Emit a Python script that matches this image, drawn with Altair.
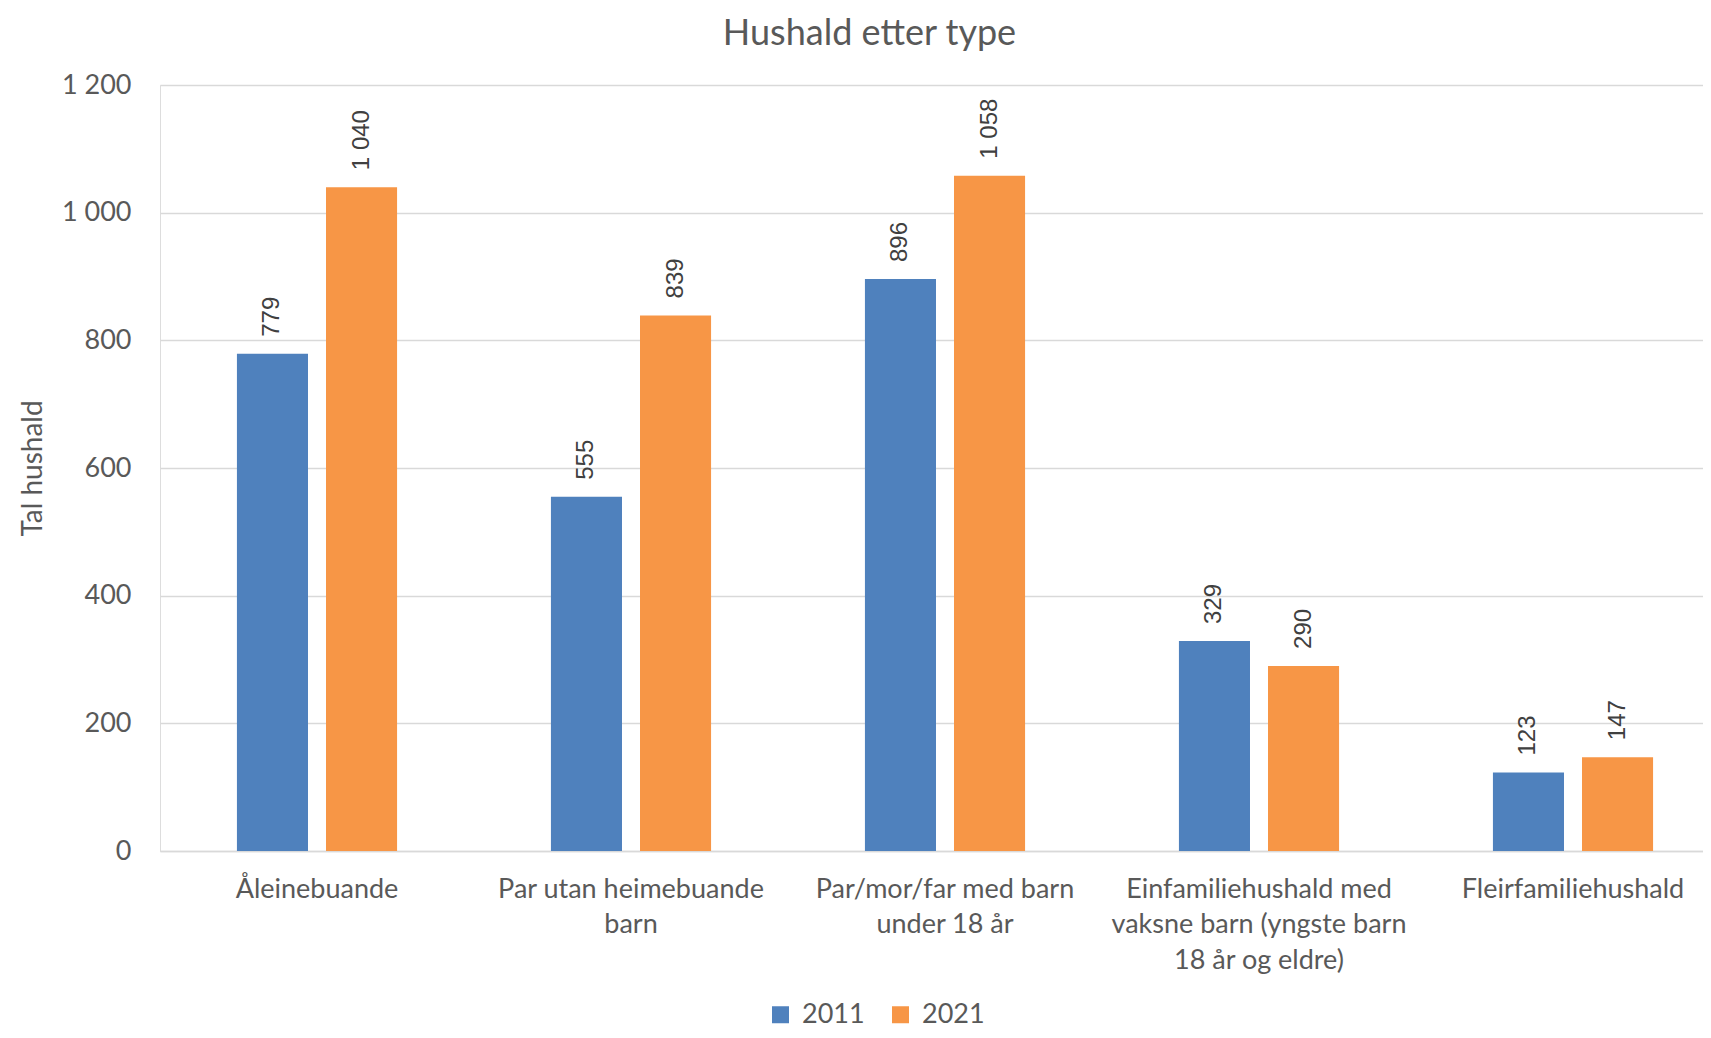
import json
import altair as alt
import pandas as pd

categories = [
    "Åleinebuande",
    "Par utan heimebuande barn",
    "Par/mor/far med barn under 18 år",
    "Einfamiliehushald med vaksne barn (yngste barn 18 år og eldre)",
    "Fleirfamiliehushald",
]
label_lines = [
    ["Åleinebuande"],
    ["Par utan heimebuande", "barn"],
    ["Par/mor/far med barn", "under 18 år"],
    ["Einfamiliehushald med", "vaksne barn (yngste barn", "18 år og eldre)"],
    ["Fleirfamiliehushald"],
]
years = ["2011", "2021"]
values_2011 = [779, 555, 896, 329, 123]
values_2021 = [1040, 839, 1058, 290, 147]
colors = ["#4F81BD", "#F79646"]

rows = []
for c, a, b in zip(categories, values_2011, values_2021):
    rows.append({"kategori": c, "år": years[0], "tal": a})
    rows.append({"kategori": c, "år": years[1], "tal": b})
df = pd.DataFrame(rows)

label_map = json.dumps(dict(zip(categories, label_lines)), ensure_ascii=False)
label_expr = label_map + "[datum.value]"

AXIS_FONT = "Lato"
GREY = "#595959"

x_enc = alt.X(
    "kategori:N",
    sort=categories,
    title=None,
    scale=alt.Scale(paddingInner=0.49, paddingOuter=0.245, range=[0, 1570]),
    axis=alt.Axis(
        labelExpr=label_expr,
        labelAngle=0,
        labelFont=AXIS_FONT,
        labelFontSize=27,
        labelColor=GREY,
        labelLineHeight=35.5,
        labelPadding=25,
        labelLimit=0,
        ticks=False,
        tickSize=0,
        domainColor="#d9d9d9",
        domainWidth=1.5,
        grid=False,
    ),
)
xoff = alt.XOffset("år:N", sort=years, scale=alt.Scale(paddingInner=0.2022, paddingOuter=0))
y_enc = alt.Y(
    "tal:Q",
    title="Tal hushald",
    scale=alt.Scale(domain=[0, 1200], nice=False),
    axis=alt.Axis(
        values=[0, 200, 400, 600, 800, 1000, 1200],
        labelExpr="replace(format(datum.value, ','), ',', ' ')",
        labelFont=AXIS_FONT,
        labelFontSize=27,
        labelColor=GREY,
        labelPadding=29,
        ticks=False,
        tickSize=0,
        domain=False,
        gridColor="#d9d9d9",
        gridWidth=1.5,
        titleFont=AXIS_FONT,
        titleFontSize=28,
        titleFontWeight="normal",
        titleColor=GREY,
        titlePadding=14,
    ),
)

bars = alt.Chart(df).mark_bar().encode(
    x=x_enc,
    xOffset=xoff,
    y=y_enc,
    color=alt.Color(
        "år:N",
        sort=years,
        scale=alt.Scale(domain=years, range=colors),
        legend=alt.Legend(
            title=None,
            orient="none",
            legendX=607,
            legendY=916,
            direction="horizontal",
            symbolType="square",
            symbolSize=289,
            symbolStrokeWidth=0,
            labelFont=AXIS_FONT,
            labelFontSize=27,
            labelColor=GREY,
            labelOffset=8,
            columnPadding=22,
        ),
    ),
)

labels = (
    alt.Chart(df)
    .transform_calculate(txt="replace(format(datum.tal, ','), ',', ' ')")
    .mark_text(
        angle=270,
        align="left",
        baseline="middle",
        dx=17,
        font="Liberation Sans",
        fontSize=24,
        color="#404040",
    )
    .encode(x=alt.X("kategori:N", sort=categories), xOffset=alt.XOffset("år:N", sort=years), y="tal:Q", text="txt:N")
)

chart = (
    alt.layer(bars, labels)
    .properties(
        width=1543,
        height=766,
        autosize=alt.AutoSizeParams(type="none"),
        padding={"left": 152, "top": 77, "right": 0, "bottom": 179},
        title=alt.TitleParams(
            "Hushald etter type",
            font=AXIS_FONT,
            fontSize=36,
            fontWeight="normal",
            color=GREY,
            anchor="middle",
            dx=-62,
            offset=18,
        ),
    )
    .configure_view(stroke=None)
    .configure(background="white")
)

chart.save("out.html", embed_options={"renderer": "svg", "actions": False})
